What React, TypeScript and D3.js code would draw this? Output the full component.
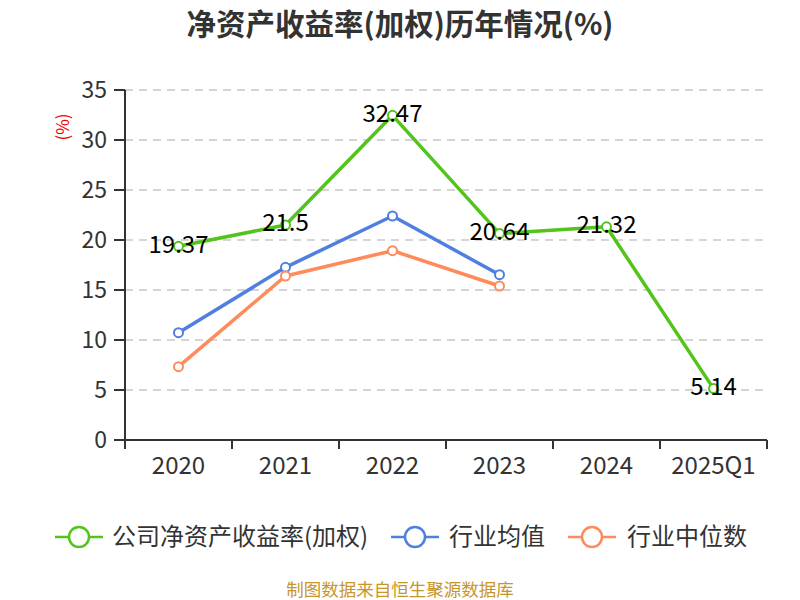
import React from "react";
import * as d3 from "d3";

const categories = ["2020", "2021", "2022", "2023", "2024", "2025Q1"];
const companyRoe = [19.37, 21.5, 32.47, 20.64, 21.32, 5.14];
const industryMean = [10.73, 17.27, 22.4, 16.53];
const industryMedian = [7.33, 16.4, 18.93, 15.4];
const yTicks = [0, 5, 10, 15, 20, 25, 30, 35];

const seriesNames = ["公司净资产收益率(加权)", "行业均值", "行业中位数"];
const colors = ["#52c41a", "#4f7fe0", "#ff8a5b"];

const W = 800;
const H = 600;
const left = 125;
const right = 767;
const top = 90;
const bottom = 440;
const font = "'Noto Sans CJK SC', 'Noto Sans', sans-serif";

export default function App() {
  const x = d3.scaleBand<string>().domain(categories).range([left, right]);
  const y = d3.scaleLinear().domain([0, 35]).range([bottom, top]);
  const cx = (c: string) => (x(c) as number) + x.bandwidth() / 2;

  const line = d3
    .line<number>()
    .x((_, i) => cx(categories[i]))
    .y((d) => y(d));

  const all = [companyRoe, industryMean, industryMedian];
  const boundaries = categories.map((c) => x(c) as number).concat([right]);

  const legendItems = [
    { lineX: 55, textX: 112 },
    { lineX: 391, textX: 449 },
    { lineX: 568, textX: 627 },
  ];

  return (
    <svg width={W} height={H} style={{ position: "absolute", left: 0, top: 0 }} fontFamily={font}>
      <rect width={W} height={H} fill="#fff" />
      <text x={400} y={35} textAnchor="middle" fontSize={29.5} fontWeight="bold" fill="#333">
        净资产收益率(加权)历年情况(%)
      </text>

      {/* grid */}
      {yTicks.filter((t) => t > 0).map((t) => (
        <line key={t} x1={left} x2={right} y1={y(t)} y2={y(t)} stroke="#c8c8c8" strokeWidth={1.5} strokeDasharray="8,6" />
      ))}

      {/* y axis */}
      <line x1={left} x2={left} y1={top} y2={bottom} stroke="#333" strokeWidth={2} />
      {yTicks.map((t) => (
        <g key={t}>
          <line x1={left - 11} x2={left} y1={y(t)} y2={y(t)} stroke="#333" strokeWidth={2} />
          <text x={107} y={y(t)} dy="0.35em" textAnchor="end" fontSize={23} fill="#333">
            {t}
          </text>
        </g>
      ))}
      <text transform={`translate(63,127) rotate(-90)`} textAnchor="middle" dy="0.35em" fontSize={17} fill="#e00">
        (%)
      </text>

      {/* x axis */}
      <line x1={left} x2={right} y1={bottom} y2={bottom} stroke="#333" strokeWidth={2} />
      {boundaries.map((b, i) => (
        <line key={i} x1={b} x2={b} y1={bottom} y2={bottom + 9} stroke="#333" strokeWidth={2} />
      ))}
      {categories.map((c) => (
        <text key={c} x={cx(c)} y={474} textAnchor="middle" fontSize={24} fill="#333">
          {c}
        </text>
      ))}

      {/* series */}
      {all.map((s, si) => (
        <g key={si}>
          <path d={line(s) || ""} fill="none" stroke={colors[si]} strokeWidth={3.5} strokeLinejoin="round" />
          {s.map((v, i) => (
            <circle key={i} cx={cx(categories[i])} cy={y(v)} r={4.5} fill="#fff" stroke={colors[si]} strokeWidth={2} />
          ))}
        </g>
      ))}

      {/* labels */}
      {companyRoe.map((v, i) => (
        <text key={i} x={cx(categories[i])} y={y(v) - 2} dy="0.35em" textAnchor="middle" fontSize={24} fill="#000">
          {v}
        </text>
      ))}

      {/* legend */}
      {legendItems.map((li, i) => (
        <g key={i}>
          <line x1={li.lineX} x2={li.lineX + 48} y1={537} y2={537} stroke={colors[i]} strokeWidth={2.5} />
          <circle cx={li.lineX + 24} cy={537} r={10} fill="#fff" stroke={colors[i]} strokeWidth={2.5} />
          <text x={li.textX} y={537} dy="0.35em" fontSize={24} fill="#333">
            {seriesNames[i]}
          </text>
        </g>
      ))}

      <text x={400} y={596} textAnchor="middle" fontSize={17.5} fill="#c8952a">
        制图数据来自恒生聚源数据库
      </text>
    </svg>
  );
}
